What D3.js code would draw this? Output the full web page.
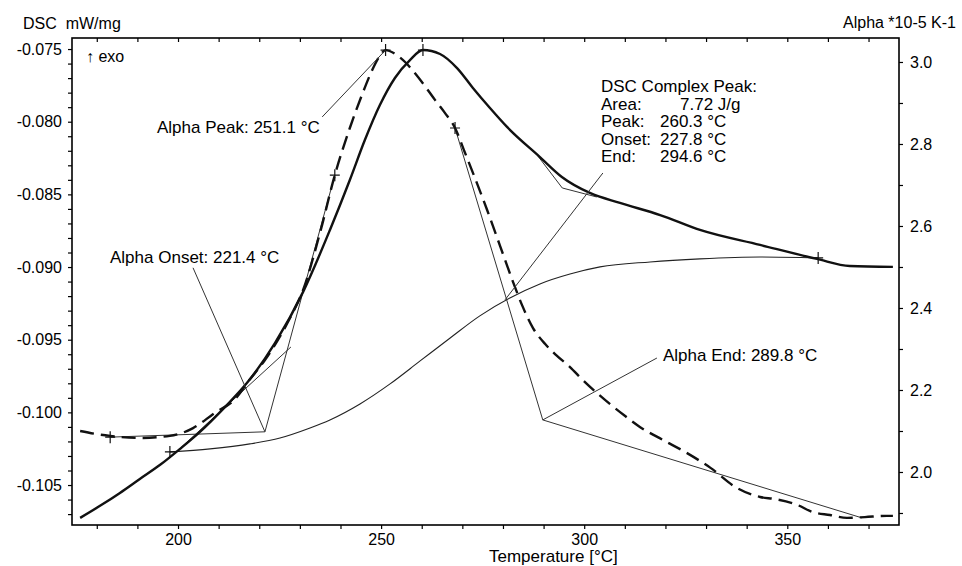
<!DOCTYPE html>
<html lang="en">
<meta charset="UTF-8">
<title>DSC / Alpha</title>
<script src="https://d3js.org/d3.v7.min.js"></script>
<style>
    body {margin: 0; background: #fff;}
    svg {font-family: "Liberation Sans", Arial, sans-serif;}
    text {white-space: pre;}
</style>
<body>
<svg id="canvas"></svg>
<script>

// DSC curve, mW/mg (left axis)
let dscTemp  = [175.9, 180.8, 185.7, 190.6, 195.6, 200.5, 205.4, 211.6, 217.0, 223.9, 230.8, 237.4, 242.3, 246.0, 249.7, 253.4, 257.1, 260.3, 264.5, 268.7, 272.6, 276.8, 281.0, 289.1, 294.5, 301.4, 308.8, 318.7, 328.5, 343.3, 357.3, 365.4, 376.0]
let dscValue = [-0.10726, -0.10643, -0.10554, -0.10458, -0.10361, -0.10251, -0.10134, -0.09962, -0.09797, -0.09522, -0.09171, -0.08745, -0.08401, -0.08126, -0.07885, -0.07699, -0.07576, -0.07507, -0.07534, -0.07631, -0.07768, -0.07906, -0.08036, -0.08243, -0.08380, -0.08490, -0.08559, -0.08642, -0.08745, -0.08848, -0.08944, -0.08993, -0.08999]

// Alpha curve, *10-5 K-1 (right axis)
let alphaTemp  = [175.9, 179.6, 183.3, 190.6, 198.0, 203.7, 208.6, 214.5, 217.0, 221.4, 224.6, 227.6, 230.8, 235.0, 238.6, 242.3, 245.3, 247.8, 249.7, 251.1, 253.4, 255.9, 258.3, 260.8, 263.3, 265.7, 268.2, 270.6, 273.1, 276.1, 279.3, 282.2, 284.7, 287.4, 290.4, 293.1, 296.5, 299.7, 303.1, 306.3, 310.0, 313.7, 319.4, 324.8, 331.1, 337.6, 343.3, 347.0, 352.4, 356.3, 360.5, 364.7, 369.1, 374.5, 376.0]
let alphaValue = [2.100, 2.093, 2.088, 2.083, 2.088, 2.107, 2.141, 2.183, 2.217, 2.273, 2.322, 2.376, 2.444, 2.585, 2.724, 2.839, 2.920, 2.980, 3.015, 3.029, 3.020, 3.000, 2.973, 2.941, 2.907, 2.876, 2.839, 2.780, 2.717, 2.639, 2.551, 2.471, 2.407, 2.351, 2.312, 2.285, 2.256, 2.224, 2.193, 2.166, 2.137, 2.110, 2.078, 2.049, 2.010, 1.961, 1.939, 1.934, 1.920, 1.902, 1.895, 1.888, 1.890, 1.893, 1.893]

// DSC peak baseline (left axis)
let baseTemp  = [198.0, 207.9, 217.7, 225.1, 232.5, 237.4, 244.8, 252.2, 259.6, 267.0, 274.3, 281.7, 289.1, 296.5, 303.9, 316.2, 328.5, 343.3, 357.6]
let baseValue = [-0.10272, -0.10251, -0.10217, -0.10176, -0.10107, -0.10052, -0.09942, -0.09804, -0.09646, -0.09488, -0.09336, -0.09213, -0.09116, -0.09048, -0.08999, -0.08965, -0.08944, -0.08931, -0.08937]

// tangent / construction lines  [temp, value]
let alphaLines = [
    [[183.3, 2.085], [221.4, 2.098]],
    [[221.4, 2.098], [238.6, 2.724]],
    [[268.2, 2.839], [289.8, 2.127]],
    [[289.8, 2.127], [368.4, 1.888]]
]
let dscLines = [
    [[198.5, -0.10299], [227.8, -0.0955]],
    [[288.4, -0.08229], [294.6, -0.08456], [303.1, -0.08518]]
]

// + marks
let alphaMarks = [[183.3, 2.085], [238.6, 2.724], [251.1, 3.029], [268.2, 2.839]]
let dscMarks   = [[198.0, -0.10272], [260.3, -0.07507], [357.6, -0.08937]]

// labels and their leader lines
let alphaLabels  = ['Alpha Peak: 251.1 °C', 'Alpha Onset: 221.4 °C', 'Alpha End: 289.8 °C']
let alphaLeaders = [
    [[235.5, 2.866], [251.1, 3.029]],
    [[203.7, 2.498], [221.4, 2.098]],
    [[317.9, 2.278], [289.8, 2.127]]
]
let dscLabelLeft  = ['DSC Complex Peak:', 'Area:', 'Peak:', 'Onset:', 'End:']
let dscLabelRight = ['', '7.72 J/g', '260.3 °C', '227.8 °C', '294.6 °C']
let dscLeader = [[304.6, -0.08353], [280.5, -0.09226]]

let tempTicks  = d3.range(180, 371, 10)
let dscTicks   = d3.range(-107, -74).map(v => v / 1000)
let alphaTicks = d3.range(19, 31).map(v => v / 10)

let width = 962
let height = 566
let padLeft = 72, padRight = 899, padTop = 38, padBottom = 525

let canvas = d3.select('#canvas')
canvas.attr('width', width).attr('height', height)

let xScale = d3.scaleLinear().domain([173.9, 377.5]).range([padLeft, padRight])
let yLeft  = d3.scaleLinear().domain([-0.10775, -0.07424]).range([padBottom, padTop])
let yRight = d3.scaleLinear().domain([1.8707, 3.0585]).range([padBottom, padTop])

let lineL = d3.line().x(d => xScale(d[0])).y(d => yLeft(d[1]))
let lineR = d3.line().x(d => xScale(d[0])).y(d => yRight(d[1]))
let curveL = d3.line().x(d => xScale(d[0])).y(d => yLeft(d[1])).curve(d3.curveMonotoneX)
let curveR = d3.line().x(d => xScale(d[0])).y(d => yRight(d[1])).curve(d3.curveMonotoneX)

let drawAxes = () => {
    let styleAxis = (g) => {
        g.select('.domain').remove()
        g.selectAll('line').attr('stroke', '#000').attr('stroke-width', 1.2)
        g.selectAll('text').attr('font-size', 16).attr('fill', '#000')
            .attr('font-family', '"Liberation Sans", Arial, sans-serif')
    }
    let xAxis = d3.axisBottom(xScale).tickValues(tempTicks).tickSize(4).tickPadding(5)
        .tickFormat(d => d % 50 == 0 ? d : '')
    canvas.append('g').attr('transform', 'translate(0,' + padBottom + ')').call(xAxis).call(styleAxis)

    let topAxis = d3.axisBottom(xScale).tickValues(tempTicks).tickSize(4).tickFormat('')
    canvas.append('g').attr('transform', 'translate(0,' + padTop + ')').call(topAxis).call(styleAxis)

    let yAxisL = d3.axisLeft(yLeft).tickValues(dscTicks).tickSize(4).tickPadding(6)
        .tickFormat(d => Math.round(d * 1000) % 5 == 0 ? d.toFixed(3) : '')
    canvas.append('g').attr('transform', 'translate(' + padLeft + ',0)').call(yAxisL).call(styleAxis)

    let yAxisR = d3.axisRight(yRight).tickValues(alphaTicks).tickSize(4).tickPadding(7)
        .tickFormat(d => Math.round(d * 10) % 2 == 0 ? d.toFixed(1) : '')
    canvas.append('g').attr('transform', 'translate(' + padRight + ',0)').call(yAxisR).call(styleAxis)

    canvas.append('rect')
        .attr('x', padLeft).attr('y', padTop)
        .attr('width', padRight - padLeft).attr('height', padBottom - padTop)
        .attr('fill', 'none').attr('stroke', '#000').attr('stroke-width', 1.6)
}

let drawCurves = () => {
    let base = baseTemp.map((t, i) => [t, baseValue[i]])
    canvas.append('path').attr('d', curveL(base))
        .attr('fill', 'none').attr('stroke', '#222').attr('stroke-width', 1.1)

    alphaLines.forEach(l => {
        canvas.append('path').attr('d', lineR(l))
            .attr('fill', 'none').attr('stroke', '#333').attr('stroke-width', 1)
    })
    dscLines.forEach(l => {
        canvas.append('path').attr('d', lineL(l))
            .attr('fill', 'none').attr('stroke', '#333').attr('stroke-width', 1)
    })

    let dsc = dscTemp.map((t, i) => [t, dscValue[i]])
    canvas.append('path').attr('d', curveL(dsc))
        .attr('fill', 'none').attr('stroke', '#111').attr('stroke-width', 2.4)

    let alpha = alphaTemp.map((t, i) => [t, alphaValue[i]])
    canvas.append('path').attr('d', curveR(alpha))
        .attr('fill', 'none').attr('stroke', '#111').attr('stroke-width', 2.4)
        .attr('stroke-dasharray', '14,7')
}

let drawMarks = () => {
    let cross = (x, y) => {
        canvas.append('path')
            .attr('d', 'M' + (x - 5) + ',' + y + 'H' + (x + 5) + 'M' + x + ',' + (y - 6) + 'V' + (y + 6))
            .attr('stroke', '#111').attr('stroke-width', 1.2)
    }
    alphaMarks.forEach(m => cross(xScale(m[0]), yRight(m[1])))
    dscMarks.forEach(m => cross(xScale(m[0]), yLeft(m[1])))
}

let drawLabels = () => {
    let txt = (s, x, y, size) => canvas.append('text').attr('x', x).attr('y', y)
        .attr('font-size', size || 17).attr('fill', '#000').text(s)

    alphaLeaders.forEach(l => {
        canvas.append('path').attr('d', lineR(l))
            .attr('fill', 'none').attr('stroke', '#333').attr('stroke-width', 1)
    })
    canvas.append('path').attr('d', lineL(dscLeader))
        .attr('fill', 'none').attr('stroke', '#333').attr('stroke-width', 1)

    txt(alphaLabels[0], 157, 133)
    txt(alphaLabels[1], 110, 263)
    txt(alphaLabels[2], 663, 361)

    dscLabelLeft.forEach((s, i) => txt(s, 601, 92 + i * 17.5))
    dscLabelRight.forEach((s, i) => {
        if (s != '') txt(s, i == 1 ? 680 : 660, 92 + i * 17.5)
    })

    txt('DSC  mW/mg', 23, 29, 16)
    txt('Alpha *10-5 K-1', 843, 28, 16)
    txt('↑ exo', 86, 62, 16)
    txt('Temperature [°C]', 489, 562)
}

drawAxes()
drawCurves()
drawMarks()
drawLabels()

</script>
</body>
</html>
